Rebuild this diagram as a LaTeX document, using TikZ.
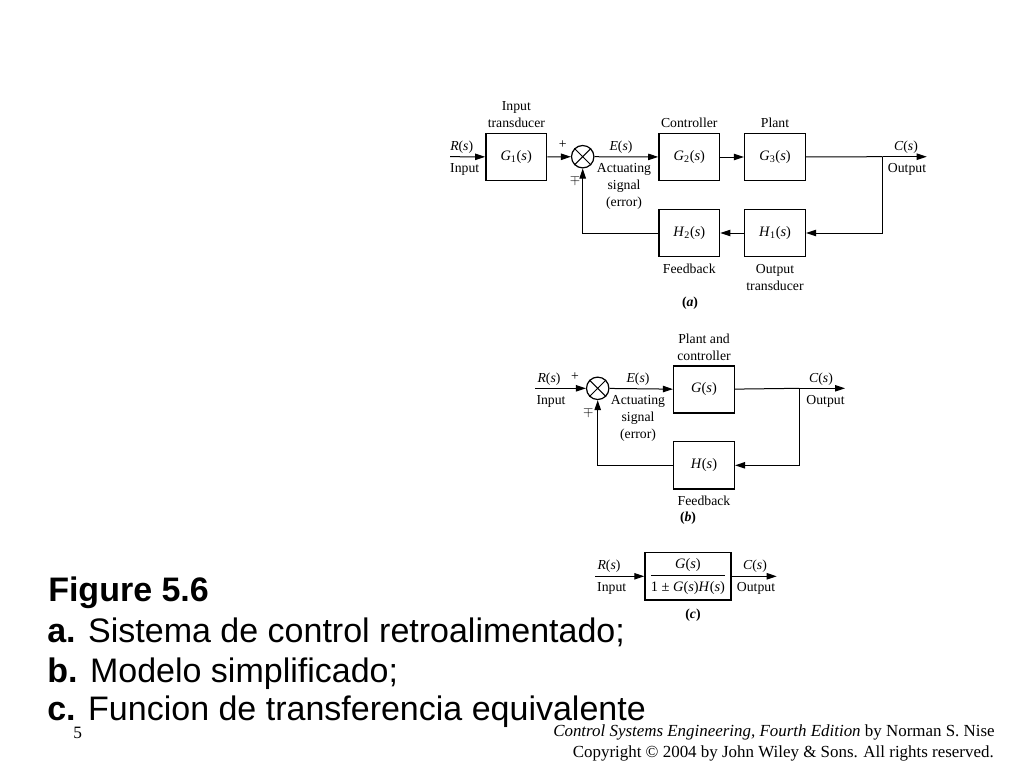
\documentclass[tikz,border=0pt]{standalone}
\usepackage{fontspec}
\setmainfont{Liberation Serif}
\newfontfamily\slidefont{Liberation Sans}
\usetikzlibrary{arrows.meta}
\newcommand{\trf}[2]{\textit{#1}\textsubscript{#2}(\textit{s})}
\newcommand{\trs}[1]{\textit{#1}(\textit{s})}
\begin{document}
\begin{tikzpicture}
[x=0.75pt,y=-0.75pt,
  blockdecorate/.style={shape=rectangle,draw,line width=1.1pt,minimum width=45.5pt,minimum height=35.5pt,inner sep=0pt,font=\fontsize{10.8}{13}\selectfont},%
  sumdecorate/.style={shape=circle,draw,line width=0.9pt,minimum size=16.8pt,inner sep=0pt},%
  linedecorate/.style={-,line width=0.75pt},%
  arrowdecorate/.style={-{Triangle[length=7.5pt,width=4.8pt]},line width=0.75pt},%
  labeldecorate/.style={inner sep=0pt,align=center,font=\fontsize{10.3}{12.8}\selectfont},%
  slidedecorate/.style={anchor=base west,inner sep=0pt,font=\slidefont\fontsize{25.5}{30}\selectfont},%
  footdecorate/.style={anchor=base east,inner sep=0pt,font=\fontsize{12.7}{15}\selectfont}]
\useasboundingbox[fill=white] (0,0) rectangle (1024,768);
%% (a) nodes or vertices
\node (g1) at (516.2,157) [blockdecorate] {\trf{G}{1}};
\node (sum) at (582.7,156.7) [sumdecorate] {};
\node (g2) at (689.3,157) [blockdecorate] {\trf{G}{2}};
\node (g3) at (775,157) [blockdecorate] {\trf{G}{3}};
\node (h2) at (689.3,233) [blockdecorate] {\trf{H}{2}};
\node (h1) at (775,233) [blockdecorate] {\trf{H}{1}};
\coordinate (ina) at (450,156.7);
\coordinate (brancha) at (882.7,156.7);
\coordinate (outa) at (926.7,156.7);
%% (a) labels
\node (ra) at (461.7,147) [labeldecorate] {\trs{R}};
\node (inputa) at (464.7,169) [labeldecorate] {Input};
\node (transin) at (516.4,114.5) [labeldecorate] {Input\\transducer};
\node (plusa) at (562.7,145) [labeldecorate] {+};
\node (minusa) at (575,180) [labeldecorate] {$\mp$};
\node (ea) at (621,147) [labeldecorate] {\trs{E}};
\node (acta) at (624,186) [labeldecorate] {Actuating\\signal\\(error)};
\node (ctrl) at (689.3,123) [labeldecorate] {Controller};
\node (plant) at (775,123) [labeldecorate] {Plant};
\node (ca) at (906,147) [labeldecorate] {\trs{C}};
\node (outputa) at (907,169) [labeldecorate] {Output};
\node (fba) at (689.3,269) [labeldecorate] {Feedback};
\node (transout) at (775,277.5) [labeldecorate] {Output\\transducer};
\node (capa) at (690,303) [labeldecorate] {\textbf{(\textit{a})}};
%% (a) edges or lines
\draw[linedecorate] (sum.north west) -- (sum.south east) (sum.north east) -- (sum.south west);
\path
(ina) edge[arrowdecorate] (g1)
(g1) edge[arrowdecorate] (sum)
(sum) edge[arrowdecorate] (g2)
(g2) edge[arrowdecorate] (g3)
(g3) edge[linedecorate] (brancha)
(brancha) edge[arrowdecorate] (outa)
(h1) edge[arrowdecorate] (h2);
\draw[arrowdecorate] (brancha) |- (h1);
\draw[arrowdecorate] (h2) -| (sum);
%% (b) nodes or vertices
\node (sumb) at (597.7,388.3) [sumdecorate] {};
\node (gb) at (704,389.5) [blockdecorate] {\trs{G}};
\node (hb) at (704,465.3) [blockdecorate] {\trs{H}};
\coordinate (inb) at (535,388.3);
\coordinate (branchb) at (799.3,388.3);
\coordinate (outb) at (845,388.3);
%% (b) labels
\node (rb) at (549,379) [labeldecorate] {\trs{R}};
\node (inputb) at (551,401) [labeldecorate] {Input};
\node (plusb) at (575,376.7) [labeldecorate] {+};
\node (minusb) at (588.3,411.7) [labeldecorate] {$\mp$};
\node (eb) at (638,379) [labeldecorate] {\trs{E}};
\node (actb) at (638,418.3) [labeldecorate] {Actuating\\signal\\(error)};
\node (pandc) at (704,347) [labeldecorate] {Plant and\\controller};
\node (cb) at (821,379) [labeldecorate] {\trs{C}};
\node (outputb) at (825.5,401) [labeldecorate] {Output};
\node (fbb) at (704,500.7) [labeldecorate] {Feedback};
\node (capb) at (688,518.3) [labeldecorate] {\textbf{(\textit{b})}};
%% (b) edges or lines
\draw[linedecorate] (sumb.north west) -- (sumb.south east) (sumb.north east) -- (sumb.south west);
\path
(inb) edge[arrowdecorate] (sumb)
(sumb) edge[arrowdecorate] (gb)
(gb) edge[linedecorate] (branchb)
(branchb) edge[arrowdecorate] (outb);
\draw[arrowdecorate] (branchb) |- (hb);
\draw[arrowdecorate] (hb) -| (sumb);
%% (c) nodes or vertices
\node (gc) at (687.9,576.3) [blockdecorate,minimum width=64.3pt] {\begin{tabular}{@{}c@{}}\trs{G}\\[1pt]\hline\rule{0pt}{12pt}1 ± \trs{G}\trs{H}\end{tabular}};
\coordinate (inc) at (595,576.3);
\coordinate (outc) at (776.7,576.3);
%% (c) labels
\node (rc) at (609,566) [labeldecorate] {\trs{R}};
\node (inputc) at (611.7,588.3) [labeldecorate] {Input};
\node (cc) at (755,566) [labeldecorate] {\trs{C}};
\node (outputc) at (756,588.3) [labeldecorate] {Output};
\node (capc) at (693,615) [labeldecorate] {\textbf{(\textit{c})}};
%% (c) edges or lines
\path
(inc) edge[arrowdecorate] (gc)
(gc) edge[arrowdecorate] (outc);
%% caption and footer
\node (fig) at (48,601.7) [slidedecorate] {\bfseries Figure 5.6};
\node (capta) at (47,642.7) [slidedecorate] {\textbf{a.} Sistema de control retroalimentado;};
\node (captb) at (47,682.7) [slidedecorate] {\textbf{b.} Modelo simplificado;};
\node (captc) at (47,720) [slidedecorate] {\textbf{c.} Funcion de transferencia equivalente};
\node (pagenum) at (73,738) [anchor=base west,inner sep=0pt,font=\fontsize{13}{15}\selectfont] {5};
\node (book) at (995,736.7) [footdecorate] {\textit{Control Systems Engineering, Fourth Edition} by Norman S. Nise};
\node (copy) at (994,757) [footdecorate] {Copyright © 2004 by John Wiley \& Sons. All rights reserved.};
\end{tikzpicture}
\end{document}
